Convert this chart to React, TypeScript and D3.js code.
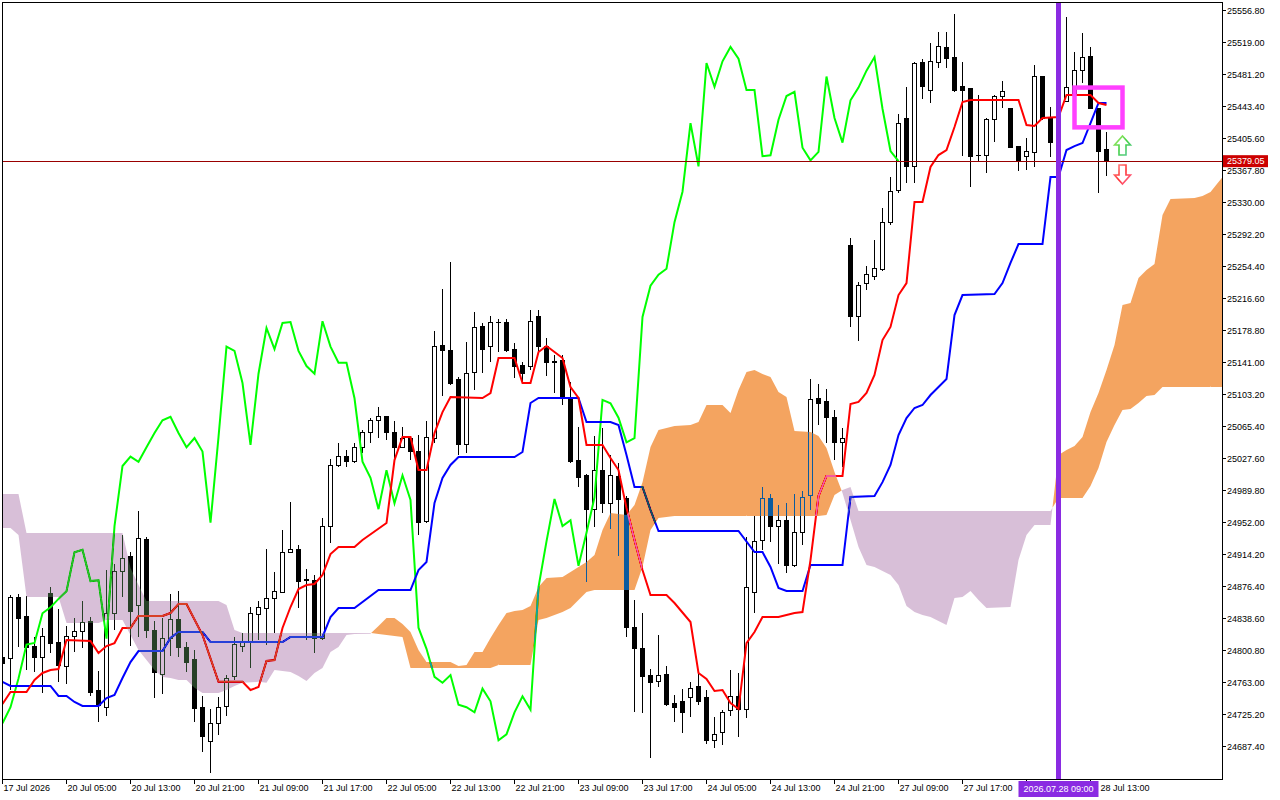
import { useMemo } from "react"
import * as d3 from "d3"

// H1 candles, bar 0 = 17 Jul 2026 (last bar = 28 Jul 15:00)
const opens = [
  24793, 24791, 24864, 24841, 24806, 24793, 24868, 24810, 24782, 24817, 24823, 24835, 24754, 24734, 24845, 24894,
  24912, 24854, 24932, 24825, 24773, 24815, 24838, 24804, 24790, 24734, 24693, 24715, 24735, 24770, 24806, 24810,
  24844, 24851, 24862, 24870, 24917, 24920, 24885, 24884, 24815, 24947, 25019, 25030, 25024, 25041, 25059, 25073,
  25077, 25058, 25041, 25051, 25036, 24954, 25052, 25161, 25155, 25121, 25044, 25129, 25184, 25160, 25188, 25189,
  25157, 25138, 25137, 25195, 25160, 25142, 25144, 25099, 25025, 25008, 24968, 25014, 24975, 25007, 24981, 24828,
  24803, 24772, 24765, 24773, 24738, 24741, 24746, 24759, 24745, 24695, 24704, 24730, 24747, 24731, 24870, 24931,
  24980, 24948, 24955, 24901, 24940, 24984, 25099, 25095, 25076, 25047, 25280, 25195, 25234, 25243, 25251, 25307,
  25344, 25429, 25373, 25496, 25462, 25496, 25513, 25502, 25467, 25465, 25386, 25386, 25428, 25456, 25441, 25396,
  25384, 25389, 25479, 25430, 25401, 25449, 25457, 25486, 25503, 25441, 25393,
]
const highs = [
  24802, 24867, 24868, 24865, 24817, 24828, 24876, 24850, 24830, 24839, 24860, 24841, 24777, 24896, 24903, 24938,
  24917, 24966, 24935, 24836, 24839, 24868, 24871, 24811, 24802, 24747, 24732, 24746, 24772, 24817, 24822, 24852,
  24860, 24921, 24894, 24943, 24976, 24926, 24897, 24890, 24958, 25027, 25046, 25038, 25046, 25062, 25076, 25089,
  25078, 25072, 25065, 25052, 25056, 25072, 25178, 25228, 25260, 25124, 25165, 25201, 25188, 25196, 25193, 25193,
  25164, 25142, 25203, 25203, 25170, 25150, 25150, 25118, 25065, 25009, 25054, 25064, 25032, 25023, 24983, 24861,
  24845, 24779, 24819, 24783, 24749, 24756, 24764, 24773, 24754, 24723, 24731, 24778, 24775, 24935, 24960, 24994,
  24986, 24973, 24975, 24986, 24989, 25122, 25116, 25110, 25085, 25064, 25288, 25236, 25255, 25286, 25324, 25360,
  25435, 25467, 25496, 25500, 25519, 25532, 25532, 25553, 25496, 25466, 25457, 25430, 25457, 25474, 25441, 25396,
  25406, 25493, 25479, 25443, 25460, 25549, 25508, 25531, 25514, 25441, 25414,
]
const lows = [
  24780, 24754, 24805, 24778, 24776, 24751, 24798, 24764, 24762, 24799, 24804, 24747, 24717, 24724, 24825, 24864,
  24806, 24817, 24816, 24745, 24750, 24795, 24793, 24776, 24717, 24681, 24656, 24701, 24724, 24766, 24799, 24780,
  24813, 24808, 24822, 24869, 24916, 24851, 24813, 24798, 24813, 24928, 25018, 25018, 25022, 25034, 25046, 25052,
  25050, 25028, 25040, 25026, 24938, 24952, 25046, 25102, 25115, 25032, 25034, 25109, 25129, 25142, 25154, 25154,
  25123, 25118, 25132, 25154, 25125, 25105, 25091, 25022, 24994, 24882, 24947, 24963, 24945, 24913, 24817, 24728,
  24727, 24674, 24758, 24736, 24717, 24704, 24723, 24737, 24691, 24686, 24689, 24724, 24699, 24721, 24845, 24920,
  24929, 24903, 24893, 24900, 24926, 24967, 25067, 25046, 25026, 25018, 25183, 25167, 25227, 25239, 25249, 25304,
  25341, 25353, 25353, 25453, 25448, 25489, 25489, 25461, 25385, 25348, 25378, 25365, 25402, 25442, 25395, 25367,
  25369, 25372, 25428, 25384, 25392, 25449, 25457, 25471, 25441, 25341, 25362,
]
const closes = [
  24786, 24864, 24839, 24805, 24793, 24817, 24809, 24783, 24817, 24823, 24834, 24752, 24736, 24845, 24894, 24910,
  24847, 24933, 24825, 24775, 24815, 24838, 24805, 24787, 24733, 24699, 24715, 24734, 24768, 24808, 24810, 24845,
  24852, 24862, 24871, 24917, 24920, 24883, 24884, 24815, 24948, 25019, 25030, 25024, 25041, 25058, 25073, 25077,
  25058, 25041, 25052, 25036, 24952, 25053, 25160, 25155, 25117, 25044, 25128, 25182, 25157, 25188, 25189, 25155,
  25137, 25128, 25190, 25160, 25141, 25141, 25099, 25024, 25005, 24968, 25014, 24975, 25008, 24979, 24828, 24803,
  24770, 24763, 24772, 24737, 24734, 24728, 24756, 24741, 24695, 24702, 24728, 24747, 24731, 24876, 24930, 24980,
  24948, 24955, 24901, 24940, 24982, 25097, 25093, 25076, 25047, 25052, 25195, 25232, 25245, 25252, 25307, 25343,
  25424, 25373, 25495, 25467, 25497, 25514, 25500, 25463, 25463, 25385, 25386, 25428, 25456, 25461, 25395, 25380,
  25390, 25479, 25430, 25401, 25451, 25466, 25486, 25502, 25441, 25391, 25379.05,
]

// Tenkan-sen (9) vertices: [bar, price]
const tenkan: [number, number][] = [
  [0, 24737.8], [1, 24752.0], [3, 24752.0], [4, 24766.3], [5, 24774.5], [6, 24778.0], [7, 24779.2], [8, 24813.4],
  [11, 24812.2], [12, 24798.1], [13, 24806.3], [14, 24809.8], [15, 24827.7], [16, 24827.7], [17, 24841.8],
  [20, 24841.8], [21, 24845.3], [22, 24856.0], [23, 24856.0], [25, 24819.3], [27, 24764.0], [30, 24764.0],
  [31, 24754.4], [32, 24757.9], [33, 24788.6], [34, 24789.8], [35, 24827.7], [36, 24852.4], [37, 24873.7],
  [38, 24878.4], [39, 24879.6], [40, 24890.2], [41, 24915.0], [42, 24923.3], [44, 24923.3], [45, 24931.5],
  [48, 24951.6], [49, 25026.0], [50, 25053.2], [51, 25053.2], [52, 25014.2], [53, 25014.2], [54, 25057.9],
  [55, 25082.7], [56, 25100.5], [60, 25099.3], [61, 25105.2], [62, 25146.5], [64, 25146.5], [65, 25117.0],
  [66, 25117.0], [67, 25153.6], [68, 25160.7], [70, 25146.5], [71, 25112.3], [72, 25099.3], [73, 25043.8],
  [75, 25043.8], [76, 25028.4], [77, 25014.2], [78, 24969.4], [79, 24931.5], [80, 24896.1], [81, 24866.6],
  [83, 24866.6], [84, 24857.1], [86, 24834.7], [87, 24774.5], [88, 24767.5], [89, 24753.2], [90, 24754.4],
  [91, 24739.0], [92, 24731.9], [93, 24809.8], [94, 24822.9], [95, 24840.6], [97, 24840.6], [98, 24842.9],
  [99, 24845.3], [100, 24846.5], [101, 24907.9], [102, 24983.5], [103, 25007.2], [105, 25007.2], [106, 25092.2],
  [107, 25094.6], [108, 25105.2], [109, 25126.5], [110, 25167.8], [111, 25183.2], [112, 25220.9], [113, 25235.1],
  [114, 25330.8], [115, 25330.8], [116, 25372.2], [117, 25386.3], [118, 25392.2], [119, 25419.4], [120, 25448.9],
  [121, 25451.3], [127, 25451.3], [128, 25421.8], [129, 25420.6], [130, 25430.0], [132, 25431.2], [133, 25457.2],
  [136, 25457.2], [137, 25447.8], [138, 25445.4],
]

// Kijun-sen (26) vertices: [bar, price]
const kijun: [number, number][] = [
  [0, 24764.0], [1, 24759.2], [6, 24759.2], [7, 24747.3], [8, 24747.3], [9, 24740.2], [10, 24735.5], [12, 24735.5],
  [13, 24744.9], [14, 24748.5], [15, 24768.6], [16, 24787.4], [17, 24800.4], [20, 24800.4], [21, 24815.8],
  [22, 24822.9], [25, 24822.9], [26, 24811.0], [35, 24811.0], [36, 24817.0], [40, 24817.0], [41, 24840.6],
  [42, 24851.2], [44, 24851.2], [47, 24872.5], [51, 24872.5], [52, 24896.1], [53, 24905.6], [54, 24975.3],
  [55, 25004.8], [56, 25020.2], [57, 25029.6], [64, 25029.6], [65, 25035.5], [66, 25093.4], [67, 25099.3],
  [72, 25099.3], [73, 25070.9], [76, 25070.9], [77, 25067.4], [78, 25032.0], [79, 24994.2], [80, 24994.2],
  [81, 24967.0], [82, 24942.2], [92, 24942.2], [94, 24917.4], [95, 24917.4], [96, 24899.7], [97, 24874.9],
  [98, 24871.3], [100, 24871.3], [101, 24902.0], [105, 24902.0], [106, 24982.3], [109, 24983.5], [110, 24999.9],
  [111, 25020.2], [112, 25055.6], [113, 25075.6], [114, 25087.5], [115, 25091.0], [116, 25102.8], [117, 25112.3],
  [118, 25121.7], [119, 25197.3], [120, 25220.9], [124, 25222.1], [125, 25235.1], [126, 25258.8], [127, 25281.2],
  [130, 25281.2], [131, 25360.3], [132, 25360.3], [133, 25392.2], [134, 25396.9], [135, 25400.5], [136, 25424.1],
  [137, 25447.8], [138, 25447.8],
]

// Senkou spans (already shifted 26 bars forward)
const cloudIdx = [
  0, 1, 2, 3, 7, 8, 12, 13, 15, 16, 17, 18, 19, 20, 21, 22, 23, 24, 25, 27, 28, 29, 30, 32, 33, 34, 36, 37, 38, 39,
  40, 41, 42, 43, 44, 46, 47, 48, 49, 50, 51, 52, 53, 56, 57, 58, 59, 60, 61, 62, 63, 64, 65, 66, 67, 68, 70, 71,
  72, 73, 74, 75, 76, 78, 79, 80, 81, 82, 84, 86, 87, 88, 90, 91, 92, 93, 94, 95, 96, 97, 98, 99, 101, 102, 103,
  104, 105, 106, 107, 108, 109, 110, 111, 112, 113, 114, 115, 116, 117, 118, 119, 120, 121, 122, 123, 126, 127,
  128, 129, 131, 132, 133, 134, 135, 136, 137, 138, 139, 140, 141, 142, 143, 144, 145, 146, 149, 150, 151, 152, 153,
]
const senkouA = [
  24945.8, 24945.8, 24937.5, 24864.2, 24864.2, 24833.5, 24833.5, 24837.0, 24837.0, 24819.3, 24801.6, 24789.8,
  24778.0, 24769.8, 24768.6, 24766.3, 24766.3, 24756.9, 24750.9, 24750.9, 24754.4, 24759.2, 24762.8, 24764.0,
  24762.8, 24778.0, 24775.6, 24770.9, 24765.1, 24774.5, 24780.3, 24799.2, 24805.1, 24819.3, 24820.5, 24820.9,
  24830.0, 24839.4, 24839.4, 24832.4, 24822.9, 24801.6, 24787.4, 24787.4, 24782.7, 24783.9, 24799.2, 24799.2,
  24815.8, 24831.2, 24845.3, 24847.7, 24848.9, 24853.6, 24876.1, 24886.7, 24887.9, 24893.7, 24899.7, 24905.6,
  24913.8, 24943.4, 24963.4, 24961.1, 24972.9, 24999.9, 25041.4, 25061.5, 25066.2, 25067.4, 25070.9, 25091.0,
  25091.0, 25081.6, 25108.7, 25130.0, 25132.4, 25127.6, 25124.1, 25106.4, 25100.5, 25060.3, 25059.1, 25054.4,
  25040.2, 25011.9, 24987.1, 24955.2, 24923.3, 24902.0, 24899.7, 24895.0, 24890.2, 24878.4, 24853.6, 24846.5,
  24842.9, 24840.6, 24835.9, 24831.2, 24863.0, 24864.2, 24871.3, 24860.7, 24851.2, 24852.4, 24907.9, 24937.5,
  24949.3, 24949.3, 25032.0, 25037.8, 25042.6, 25053.2, 25082.7, 25105.2, 25132.4, 25161.9, 25209.2, 25211.5,
  25241.1, 25250.5, 25257.6, 25315.5, 25334.4, 25335.6, 25337.9, 25342.6, 25354.4, 25366.3,
]
const senkouB = [
  24985.9, 24985.9, 24985.9, 24939.8, 24939.8, 24939.8, 24939.8, 24939.8, 24939.8, 24898.5, 24878.4, 24859.5,
  24859.5, 24859.5, 24859.5, 24859.5, 24859.5, 24859.5, 24859.5, 24859.5, 24854.8, 24825.3, 24821.7, 24821.7,
  24821.7, 24821.7, 24821.7, 24821.7, 24821.7, 24821.7, 24821.7, 24821.7, 24821.7, 24821.7, 24821.7, 24821.7,
  24820.5, 24819.3, 24818.2, 24817.0, 24780.3, 24780.3, 24780.3, 24780.3, 24780.3, 24780.3, 24780.3, 24780.3,
  24780.3, 24783.9, 24783.9, 24783.9, 24783.9, 24783.9, 24837.0, 24839.4, 24846.5, 24851.2, 24860.7, 24870.1,
  24872.5, 24872.5, 24872.5, 24872.5, 24872.5, 24899.7, 24943.4, 24957.6, 24959.9, 24959.9, 24959.9, 24959.9,
  24959.9, 24959.9, 24959.9, 24959.9, 24959.9, 24959.9, 24959.9, 24959.9, 24959.9, 24959.9, 24959.9, 24959.9,
  24961.1, 24984.7, 24990.6, 24994.2, 24965.8, 24965.8, 24965.8, 24965.8, 24965.8, 24965.8, 24965.8, 24965.8,
  24965.8, 24965.8, 24965.8, 24965.8, 24965.8, 24965.8, 24965.8, 24965.8, 24965.8, 24965.8, 24965.8, 24965.8,
  24965.8, 24965.8, 24981.2, 24981.2, 24981.2, 24981.2, 24995.4, 25016.6, 25047.3, 25067.4, 25085.1, 25086.3,
  25093.4, 25101.6, 25102.8, 25112.3, 25112.3, 25112.3, 25112.3, 25112.3, 25112.3, 25112.3,
]

const priceTicks = [
  25556.8, 25519.0, 25481.2, 25443.4, 25405.6, 25367.8, 25330.0, 25292.2, 25254.4, 25216.6, 25178.8, 25141.0,
  25103.2, 25065.4, 25027.6, 24989.8, 24952.0, 24914.2, 24876.4, 24838.6, 24800.8, 24763.0, 24725.2, 24687.4,
]
// the 28 Jul 05:00 tick sits under the marker label, so it carries no text
const timeTickBars = [0, 8, 16, 24, 32, 40, 48, 56, 64, 72, 80, 88, 96, 104, 112, 120, 128, 136]
const timeTickLabels = [
  "17 Jul 2026", "20 Jul 05:00", "20 Jul 13:00", "20 Jul 21:00", "21 Jul 09:00", "21 Jul 17:00",
  "22 Jul 05:00", "22 Jul 13:00", "22 Jul 21:00", "23 Jul 09:00", "23 Jul 17:00", "24 Jul 05:00",
  "24 Jul 13:00", "24 Jul 21:00", "27 Jul 09:00", "27 Jul 17:00", "", "28 Jul 13:00",
]

const CHIKOU_SHIFT = 26
const lastPrice = 25379.05
const markerBar = 132
const markerLabel = "2026.07.28 09:00"
const boxBars = [134, 140]
const boxPrices = [25466, 25419]
const arrowBar = 140
const arrowUpTip = 25408.8
const arrowDownTip = 25352.1

const FONT = "'Liberation Sans', Arial, sans-serif"

export default function App() {
  const W = 1280
  const H = 800
  const L = 2
  const T = 2
  const R = 1222
  const B = 779

  const x = d3.scaleLinear().domain([0, 152]).range([2.5, 2.5 + 8 * 152])
  const y = d3.scaleLinear().domain([24687.4, 25556.8]).range([746.7, 10.7])

  const line = d3
    .line<[number, number]>()
    .x((d) => x(d[0]))
    .y((d) => y(d[1]))

  const chikou: [number, number][] = closes.slice(CHIKOU_SHIFT).map((c, i) => [i, c])

  const cloud = useMemo(() => {
    const up = d3.path()
    const dn = d3.path()
    const poly = (p: d3.Path, pts: [number, number][]) => {
      pts.forEach(([i, v], k) => (k === 0 ? p.moveTo(x(i), y(v)) : p.lineTo(x(i), y(v))))
      p.closePath()
    }
    for (let k = 0; k < cloudIdx.length - 1; k++) {
      const i0 = cloudIdx[k]
      const i1 = cloudIdx[k + 1]
      const a0 = senkouA[k]
      const b0 = senkouB[k]
      const a1 = senkouA[k + 1]
      const b1 = senkouB[k + 1]
      const d0 = a0 - b0
      const d1 = a1 - b1
      if (d0 * d1 < 0) {
        const t = d0 / (d0 - d1)
        const ic = i0 + t * (i1 - i0)
        const vc = a0 + t * (a1 - a0)
        poly(d0 > 0 ? up : dn, [[i0, a0], [ic, vc], [i0, b0]])
        poly(d1 > 0 ? up : dn, [[ic, vc], [i1, a1], [i1, b1]])
      } else {
        poly(d0 + d1 >= 0 ? up : dn, [[i0, a0], [i1, a1], [i1, b1], [i0, b0]])
      }
    }
    return { up: up.toString(), dn: dn.toString() }
  }, [])

  const ax = x(arrowBar)
  const upY = y(arrowUpTip)
  const dnY = y(arrowDownTip)
  const upArrow = `M${ax},${upY} L${ax + 8},${upY + 9} L${ax + 3.5},${upY + 9} L${ax + 3.5},${upY + 19} L${ax - 3.5},${upY + 19} L${ax - 3.5},${upY + 9} L${ax - 8},${upY + 9} Z`
  const dnArrow = `M${ax},${dnY} L${ax + 8},${dnY - 9} L${ax + 3.5},${dnY - 9} L${ax + 3.5},${dnY - 19} L${ax - 3.5},${dnY - 19} L${ax - 3.5},${dnY - 9} L${ax - 8},${dnY - 9} Z`

  const mx = x(markerBar)
  const markerRight = mx + 40

  return (
    <div style={{ position: "absolute", left: 0, top: 0, width: W, height: H, background: "#fff" }}>
      <svg width={W} height={H} style={{ display: "block" }}>
        <defs>
          <clipPath id="plot">
            <rect x={L} y={T} width={R - L} height={B - T} />
          </clipPath>
          <linearGradient id="upg" x1="0" y1="0" x2="1" y2="1">
            <stop offset="0" stopColor="#b8f070" />
            <stop offset="0.5" stopColor="#40d040" />
            <stop offset="1" stopColor="#60c8a0" />
          </linearGradient>
          <linearGradient id="dng" x1="0" y1="0" x2="1" y2="1">
            <stop offset="0" stopColor="#ff9090" />
            <stop offset="0.5" stopColor="#ff3030" />
            <stop offset="1" stopColor="#ff70a0" />
          </linearGradient>
        </defs>
        <rect width={W} height={H} fill="#fff" />

        <g clipPath="url(#plot)">
          <rect x={L} y={T} width={R - L} height={B - T} fill="#fff" />

          {/* candles */}
          <g shapeRendering="crispEdges">
            {opens.map((o, i) => {
              const c = closes[i]
              const cx = x(i)
              const top = y(Math.max(o, c))
              const bot = y(Math.min(o, c))
              const bull = c >= o
              return (
                <g key={i}>
                  <line x1={cx} x2={cx} y1={y(highs[i])} y2={y(lows[i])} stroke="#000" strokeWidth={1} />
                  <rect
                    x={cx - 2}
                    y={top}
                    width={4}
                    height={Math.max(bot - top, 0.5)}
                    fill={bull ? "#fff" : "#000"}
                    stroke="#000"
                    strokeWidth={1}
                  />
                </g>
              )
            })}
          </g>

          {/* ichimoku lines */}
          <path d={line(chikou) ?? ""} fill="none" stroke="#00ff00" strokeWidth={2} />
          <path d={line(kijun) ?? ""} fill="none" stroke="#0000ff" strokeWidth={2} />
          <path d={line(tenkan) ?? ""} fill="none" stroke="#ff0000" strokeWidth={2} />

          {/* kumo, drawn in xor-like mode as MT does */}
          <path d={cloud.up} fill="#0b5b9f" style={{ mixBlendMode: "difference" }} />
          <path d={cloud.dn} fill="#274027" style={{ mixBlendMode: "difference" }} />

          {/* last price line */}
          <line x1={L} x2={R} y1={y(lastPrice)} y2={y(lastPrice)} stroke="#990000" strokeWidth={1} shapeRendering="crispEdges" />

          {/* vertical marker */}
          <line x1={mx} x2={mx} y1={T} y2={B} stroke="#8a2be2" strokeWidth={5} shapeRendering="crispEdges" />

          {/* annotations */}
          <rect
            x={x(boxBars[0])}
            y={y(boxPrices[0])}
            width={x(boxBars[1]) - x(boxBars[0])}
            height={y(boxPrices[1]) - y(boxPrices[0])}
            fill="none"
            stroke="#ff40ff"
            strokeWidth={4.5}
          />
          <path d={upArrow} fill="#fff" stroke="url(#upg)" strokeWidth={1.6} />
          <path d={dnArrow} fill="#fff" stroke="url(#dng)" strokeWidth={1.6} />
        </g>

        {/* frame */}
        <rect x={L} y={T} width={R - L} height={B - T} fill="none" stroke="#000" strokeWidth={1} shapeRendering="crispEdges" />

        {/* price axis */}
        <g fontFamily={FONT} fontSize={9} fill="#000">
          {priceTicks.map((p) => (
            <g key={p}>
              <line x1={R} x2={R + 4} y1={y(p)} y2={y(p)} stroke="#000" shapeRendering="crispEdges" />
              <text x={R + 5} y={y(p) + 3.3}>
                {p.toFixed(2)}
              </text>
            </g>
          ))}
        </g>
        <rect x={R + 1} y={y(lastPrice) - 6} width={45} height={12} fill="#cc0000" />
        <text x={R + 5} y={y(lastPrice) + 3.3} fontFamily={FONT} fontSize={9} fill="#fff">
          {lastPrice.toFixed(2)}
        </text>

        {/* time axis */}
        <g fontFamily={FONT} fontSize={9} fill="#000">
          {timeTickBars.map((b, k) => (
            <g key={b}>
              <line x1={x(b)} x2={x(b)} y1={B} y2={B + 5} stroke="#000" shapeRendering="crispEdges" />
              {timeTickLabels[k] && (
                <text x={Math.max(x(b) + 1, x(b) > mx ? markerRight + 2 : 0)} y={791}>
                  {timeTickLabels[k]}
                </text>
              )}
            </g>
          ))}
        </g>
        <rect x={mx - 40} y={781} width={80} height={16} fill="#8a2be2" />
        <text x={mx} y={792} textAnchor="middle" fontFamily={FONT} fontSize={9} fill="#fff">
          {markerLabel}
        </text>
      </svg>
    </div>
  )
}
